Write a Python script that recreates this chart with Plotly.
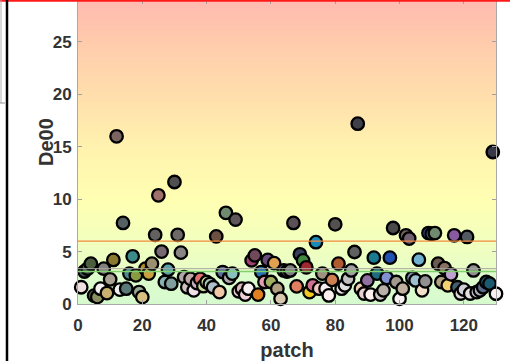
import numpy as np
import plotly.graph_objects as go

patch = list(range(1, 131))
de00 = [1.6, 3.1, 3.37, 3.85, 0.8, 0.66, 1.46, 3.37, 1.04, 2.35,
        4.2, 16.0, 1.37, 7.73, 1.46, 2.9, 4.55, 2.73, 1.14, 0.66,
        3.37, 2.9, 3.85, 6.6, 10.37, 5.0, 2.1, 3.27, 1.94, 11.64,
        6.6, 4.9, 2.57, 1.6, 2.4, 1.3, 2.0, 2.4, 1.7, 2.1,
        1.9, 1.6, 6.45, 1.14, 3.05, 8.7, 2.5, 2.9, 8.05, 1.2,
        1.46, 0.9, 1.46, 4.16, 4.64, 0.9, 3.05, 2.1, 4.2, 2.1,
        3.9, 1.46, 0.5, 3.2, 3.1, 3.2, 7.73, 1.68, 4.74, 4.16,
        3.5, 1.14, 1.78, 5.9, 1.46, 2.9, 1.46, 0.82, 2.3, 7.6,
        3.85, 1.46, 1.78, 2.4, 3.2, 4.96, 17.2, 1.46, 1.0, 2.25,
        0.9, 4.42, 2.9, 0.9, 1.3, 2.5, 4.42, 7.25, 2.1, 0.5,
        1.46, 6.55, 6.24, 2.5, 2.25, 4.23, 1.3, 2.16, 6.77, 6.7,
        6.77, 3.85, 2.1, 3.43, 1.78, 2.83, 6.55, 1.6, 1.0, 1.37,
        6.4, 1.0, 3.2, 1.14, 1.3, 1.6, 2.1, 1.94, 14.5, 0.98]
patch_colors = [
    "#f0e0e0", "#3d5555", "#456050", "#4d5e40", "#5a6040", "#8a9060", "#f5f0f0", "#858080", "#c8b070", "#a8a090",
    "#8a7a30", "#7a6560", "#f0f0f0", "#556060", "#5a7878", "#4a8a90", "#3d8a8a", "#8a9a40", "#98a890", "#d8c080",
    "#b09020", "#c8a040", "#9a9070", "#656060", "#a0706a", "#786870", "#88b0b0", "#5aa0a8", "#80a0a0", "#505050",
    "#6e6868", "#8a8585", "#b0a8a8", "#d0c0c0", "#c0a8a8", "#f0e0e8", "#c0b0c0", "#e07070", "#c8d8a0", "#d0d8a0",
    "#a8c8b8", "#b0c0c8", "#6a5040", "#f0c8a8", "#5a6a9a", "#708a70", "#b0a8b0", "#88c0c0", "#605558", "#e8c8c8",
    "#e0b8c0", "#f0d0d8", "#f8f0f0", "#a04070", "#704a5a", "#e08020", "#2a70b0", "#e0a0b0", "#6a4a7a", "#a0b060",
    "#e0a050", "#b0a080", "#d8c8b0", "#5a5050", "#404040", "#808080", "#5a5055", "#e08060", "#384060", "#408a40",
    "#a02830", "#f0c820", "#d07090", "#1a8ab8", "#f0c8c0", "#a09080", "#f8f0f0", "#fff0f0", "#d08050", "#555050",
    "#b05a30", "#e8e0e0", "#e0e0e0", "#c0c0c0", "#a0a0a0", "#606060", "#404048", "#f0d0b0", "#e8d0d0", "#9070a0",
    "#fff0f0", "#1a7a90", "#206a80", "#d0c8c8", "#b8b0a8", "#8090d0", "#2050b0", "#4a4a4a", "#a09a90", "#f8f0f0",
    "#c0b0a0", "#706058", "#706070", "#8090b0", "#a0c0d0", "#70b0d0", "#f0e0c8", "#909090", "#4050a0", "#505a70",
    "#708a70", "#6a5a50", "#b0a080", "#8a7060", "#f0d070", "#c0a0d0", "#8a5aa0", "#406070", "#e0d8d8", "#d0d0d8",
    "#505a60", "#e8e0e0", "#909090", "#c0c0d0", "#b0b0c0", "#5a6a8a", "#205a70", "#1a5a70", "#383848", "#f8f0f0"]

x_ticks = [0, 20, 40, 60, 80, 100, 120]
y_ticks = [0, 5, 10, 15, 20, 25]
thresholds = {"orange": 6.0, "gray": 3.37, "green": 3.1}

XMAX, YMAX = 130, 29

fig = go.Figure()

# background gradient
yy = np.linspace(0, YMAX, 200)
z = np.column_stack([yy, yy])
fig.add_trace(go.Heatmap(
    x=[0, XMAX], y=yy, z=z, showscale=False, hoverinfo="skip",
    zmin=0, zmax=YMAX,
    colorscale=[
        [0.0, "rgb(214,250,206)"],
        [3.1 / YMAX, "rgb(222,252,204)"],
        [3.2 / YMAX, "rgb(232,253,198)"],
        [6 / YMAX, "rgb(242,255,190)"],
        [10 / YMAX, "rgb(255,255,178)"],
        [15 / YMAX, "rgb(255,242,174)"],
        [20 / YMAX, "rgb(255,222,172)"],
        [25 / YMAX, "rgb(255,203,172)"],
        [1.0, "rgb(255,186,176)"],
    ]))

fig.add_trace(go.Scatter(
    x=patch, y=de00, mode="markers", cliponaxis=False,
    marker=dict(size=12.5, color=patch_colors, line=dict(color="black", width=2.3)),
    showlegend=False))

fig.add_hline(y=thresholds["orange"], line=dict(color="#f08a40", width=1.2))
fig.add_hline(y=thresholds["gray"], line=dict(color="#a8a8a0", width=1))
fig.add_hline(y=thresholds["green"], line=dict(color="#80d070", width=1.5))

FONT = "Liberation Sans, Arial"
tickfont = dict(family=FONT, size=17, color="#333333", weight="bold")
grid = "rgba(120,100,60,0.13)"
fig.update_xaxes(range=[0, XMAX], tickvals=x_ticks, ticks="inside", ticklen=4,
                 tickcolor="#a0a0a0", showline=True, linecolor="#a8a8a8", mirror="ticks",
                 showgrid=True, gridcolor=grid, zeroline=False, tickfont=tickfont,
                 ticklabelstandoff=6,
                 title=dict(text="patch", font=dict(family=FONT, size=20,
                                                     color="#333333", weight="bold"), standoff=10))
fig.update_yaxes(range=[0, YMAX], tickvals=y_ticks, ticks="inside", ticklen=4,
                 tickcolor="#a0a0a0", showline=True, linecolor="#a8a8a8", mirror="ticks",
                 showgrid=True, gridcolor=grid, zeroline=False, tickfont=tickfont,
                 ticklabelstandoff=2)

W, H = 510, 361
L, R, T, B = 78, 14, 0, 57
pw = W - L - R
ph = H - T - B

def px(xp):
    return (xp - L) / pw

def py(yp):
    return 1 - (yp - T) / ph

fig.add_annotation(text="De00", x=px(33), y=py(142), xref="paper", yref="paper",
                   textangle=-90, showarrow=False,
                   font=dict(family=FONT, size=20, color="#333333", weight="bold"))

# decorations from neighbouring panels
fig.add_shape(type="line", xref="paper", yref="paper", x0=px(0), x1=px(510), y0=py(0.8), y1=py(0.8),
              line=dict(color="#ff1a1a", width=2))
fig.add_shape(type="line", xref="paper", yref="paper", x0=px(7), x1=px(7), y0=py(0), y1=py(361),
              line=dict(color="black", width=2.5))
fig.add_shape(type="line", xref="paper", yref="paper", x0=px(1), x1=px(1), y0=py(0), y1=py(103),
              line=dict(color="#b0b0b0", width=1))
fig.add_shape(type="line", xref="paper", yref="paper", x0=px(0), x1=px(5), y0=py(103), y1=py(103),
              line=dict(color="#909090", width=1))

fig.update_layout(width=W, height=H, margin=dict(l=L, r=R, t=T, b=B),
                  paper_bgcolor="white", plot_bgcolor="white", showlegend=False)

fig.write_html("out.html")
